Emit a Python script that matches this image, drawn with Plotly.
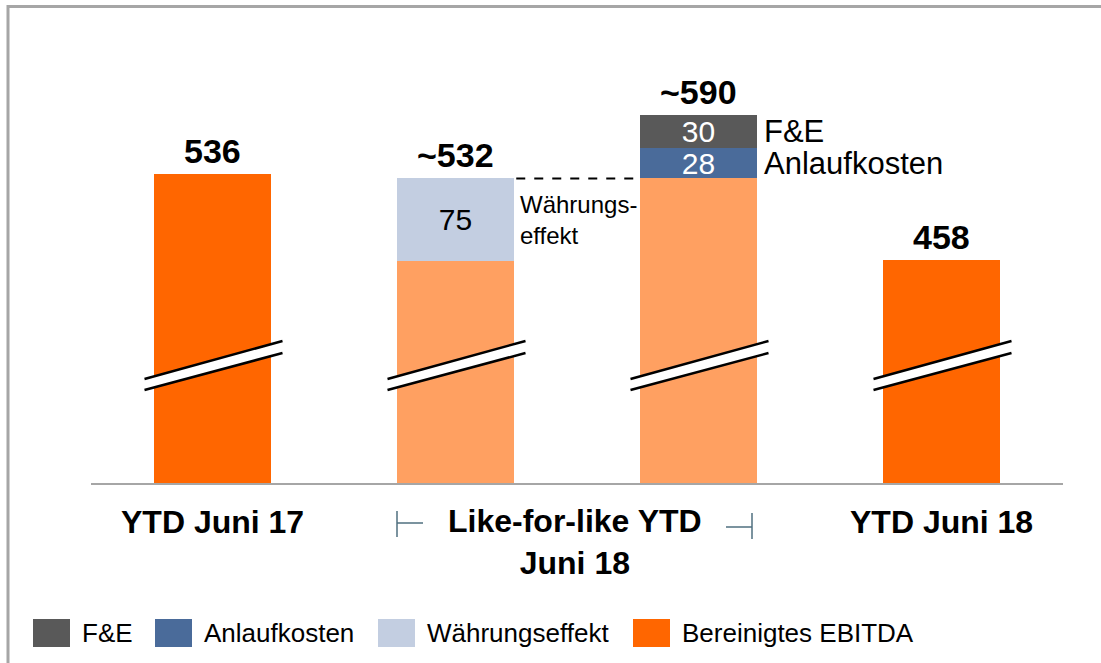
import plotly.graph_objects as go

# ---------------- data ----------------
slots = [0, 1, 2, 3]
category_labels = ["YTD Juni 17", "Like-for-like YTD<br>Juni 18", "YTD Juni 18"]
ebitda = [536, None, None, 458]          # Bereinigtes EBITDA
lfl_base = [None, 457, 532, None]        # like-for-like base (light orange)
waehrung = [None, 75, None, None]        # Währungseffekt
anlauf = [None, None, 28, None]          # Anlaufkosten
fue = [None, None, 30, None]             # F&E
top_labels = ["536", "~532", "~590", "458"]
legend_names = ["F&E", "Anlaufkosten", "Währungseffekt", "Bereinigtes EBITDA"]

# ---------------- style ----------------
C_EBITDA = "#FF6600"
C_BASE = "#FFA061"
C_WAEHR = "#C3CEE1"
C_ANL = "#4A6B9A"
C_FUE = "#595959"
FONT = "Arial, Liberation Sans, sans-serif"

W, H = 1101, 663
L, R, T, B = 91, 38, 20, 180
PW, PH = W - L - R, H - T - B
SCALE = 1.1  # px per unit (broken axis)
Y0 = ebitda[0] - (PH - 174 + T) / SCALE
Y1 = Y0 + PH / SCALE
BW = 0.48


def px(xp):
    return (xp - L) / PW


def py(yp):
    return (H - B - yp) / PH


def stack_vals(*series):
    tot = []
    for i in range(len(slots)):
        tot.append(sum(v[i] for v in series if v[i] is not None))
    return tot


def seg_text(vals):
    return [str(v) if v else "" for v in vals]


fig = go.Figure()
fig.add_bar(x=slots, y=ebitda, marker_color=C_EBITDA, width=BW, name=legend_names[3])
fig.add_bar(x=slots, y=lfl_base, marker_color=C_BASE, width=BW, name="Basis")
fig.add_bar(x=slots, y=waehrung, marker_color=C_WAEHR, width=BW, name=legend_names[2],
            text=seg_text(waehrung), textfont=dict(size=30, color="black", family=FONT))
fig.add_bar(x=slots, y=anlauf, marker_color=C_ANL, width=BW, name=legend_names[1],
            text=seg_text(anlauf), textfont=dict(size=30, color="white", family=FONT))
fig.add_bar(x=slots, y=fue, marker_color=C_FUE, width=BW, name=legend_names[0],
            text=seg_text(fue), textfont=dict(size=30, color="white", family=FONT))
fig.update_traces(marker_line_width=0, showlegend=False, hoverinfo="skip",
                  textposition="inside", insidetextanchor="middle", constraintext="none",
                  textangle=0)

totals = stack_vals(ebitda, lfl_base, waehrung, anlauf, fue)

annotations = []
for i, lab in enumerate(top_labels):
    annotations.append(dict(x=slots[i], y=totals[i], xref="x", yref="y", text=f"<b>{lab}</b>",
                            showarrow=False, yanchor="bottom", yshift=2,
                            font=dict(size=34, color="black", family=FONT)))

# segment labels to the right of bar 3
fue_mid = lfl_base[2] + anlauf[2] + fue[2] / 2
anl_mid = lfl_base[2] + anlauf[2] / 2
annotations.append(dict(x=2 + BW / 2, y=fue_mid, xref="x", yref="y", text="F&E", showarrow=False,
                        xanchor="left", xshift=5, font=dict(size=31, color="black", family=FONT)))
annotations.append(dict(x=2 + BW / 2, y=anl_mid, xref="x", yref="y", text="Anlaufkosten", showarrow=False,
                        xanchor="left", xshift=5, font=dict(size=31, color="black", family=FONT)))
annotations.append(dict(x=1 + BW / 2, y=lfl_base[1] + waehrung[1] / 2, xref="x", yref="y",
                        text="Währungs-<br>effekt", showarrow=False, xanchor="left", align="left",
                        xshift=4, font=dict(size=24, color="black", family=FONT)))

# category labels
annotations.append(dict(x=0, y=py(522), xref="x", yref="paper", text=f"<b>{category_labels[0]}</b>",
                        showarrow=False, yanchor="middle", font=dict(size=32, color="black", family=FONT)))
annotations.append(dict(x=1.49, y=py(542), xref="x", yref="paper", text=f"<b>{category_labels[1]}</b>",
                        showarrow=False, yanchor="middle", font=dict(size=32, color="black", family=FONT)))
annotations.append(dict(x=3, y=py(522), xref="x", yref="paper", text=f"<b>{category_labels[2]}</b>",
                        showarrow=False, yanchor="middle", font=dict(size=32, color="black", family=FONT)))

shapes = []
# outer border (top + left)
shapes.append(dict(type="line", xref="paper", yref="paper", x0=px(8), x1=px(1101), y0=py(6.5), y1=py(6.5),
                   line=dict(color="#A6A6A6", width=3)))
shapes.append(dict(type="line", xref="paper", yref="paper", x0=px(8), x1=px(8), y0=py(5), y1=py(663),
                   line=dict(color="#A6A6A6", width=3)))

# axis break marks on each bar
for i in slots:
    cx = L + (i + 0.5) * PW / 4
    xl, xr = cx - 68, cx + 70
    ul, ur, ll, lr = 379, 341, 390, 353
    path = (f"M {px(xl)},{py(ul)} L {px(xr)},{py(ur)} L {px(xr)},{py(lr)} "
            f"L {px(xl)},{py(ll)} Z")
    shapes.append(dict(type="path", xref="paper", yref="paper", path=path, fillcolor="white",
                       line=dict(width=0), layer="above"))
    for a, b in ((ul, ur), (ll, lr)):
        shapes.append(dict(type="line", xref="paper", yref="paper", x0=px(xl), x1=px(xr),
                           y0=py(a), y1=py(b), line=dict(color="black", width=2.5), layer="above"))

# dashed connector
shapes.append(dict(type="line", xref="x", yref="y", x0=1 + BW / 2 + 0.01, x1=2 - BW / 2 - 0.01,
                   y0=totals[1], y1=totals[1], line=dict(color="black", width=2, dash="dash")))

# brackets around like-for-like label
BR = "#4F6F7F"
shapes += [
    dict(type="line", xref="paper", yref="paper", x0=px(397), x1=px(397), y0=py(511), y1=py(537),
         line=dict(color=BR, width=1.5)),
    dict(type="line", xref="paper", yref="paper", x0=px(397), x1=px(423), y0=py(523), y1=py(523),
         line=dict(color=BR, width=1.5)),
    dict(type="line", xref="paper", yref="paper", x0=px(752), x1=px(752), y0=py(513), y1=py(539),
         line=dict(color=BR, width=1.5)),
    dict(type="line", xref="paper", yref="paper", x0=px(726), x1=px(752), y0=py(527), y1=py(527),
         line=dict(color=BR, width=1.5)),
]

# manual legend
leg_colors = [C_FUE, C_ANL, C_WAEHR, C_EBITDA]
leg_x = [33, 155, 378, 633]
for name, col, x0 in zip(legend_names, leg_colors, leg_x):
    shapes.append(dict(type="rect", xref="paper", yref="paper", x0=px(x0), x1=px(x0 + 37),
                       y0=py(647), y1=py(619), fillcolor=col, line=dict(width=0)))
    annotations.append(dict(x=px(x0 + 47), y=py(633), xref="paper", yref="paper", text=name,
                            showarrow=False, xanchor="left", yanchor="middle",
                            font=dict(size=26, color="black", family=FONT)))

fig.update_layout(
    width=W, height=H, barmode="stack",
    margin=dict(l=L, r=R, t=T, b=B, autoexpand=False),
    paper_bgcolor="white", plot_bgcolor="white",
    xaxis=dict(range=[-0.5, 3.5], showticklabels=False, ticks="", showgrid=False, zeroline=False,
               showline=True, linecolor="#A6A6A6", linewidth=2, fixedrange=True),
    yaxis=dict(range=[Y0, Y1], visible=False, showgrid=False, zeroline=False, fixedrange=True),
    annotations=annotations, shapes=shapes, showlegend=False,
    font=dict(family=FONT),
)

fig.write_html("out.html", config={"displayModeBar": False},
               post_script="document.body.style.margin='0px';")
